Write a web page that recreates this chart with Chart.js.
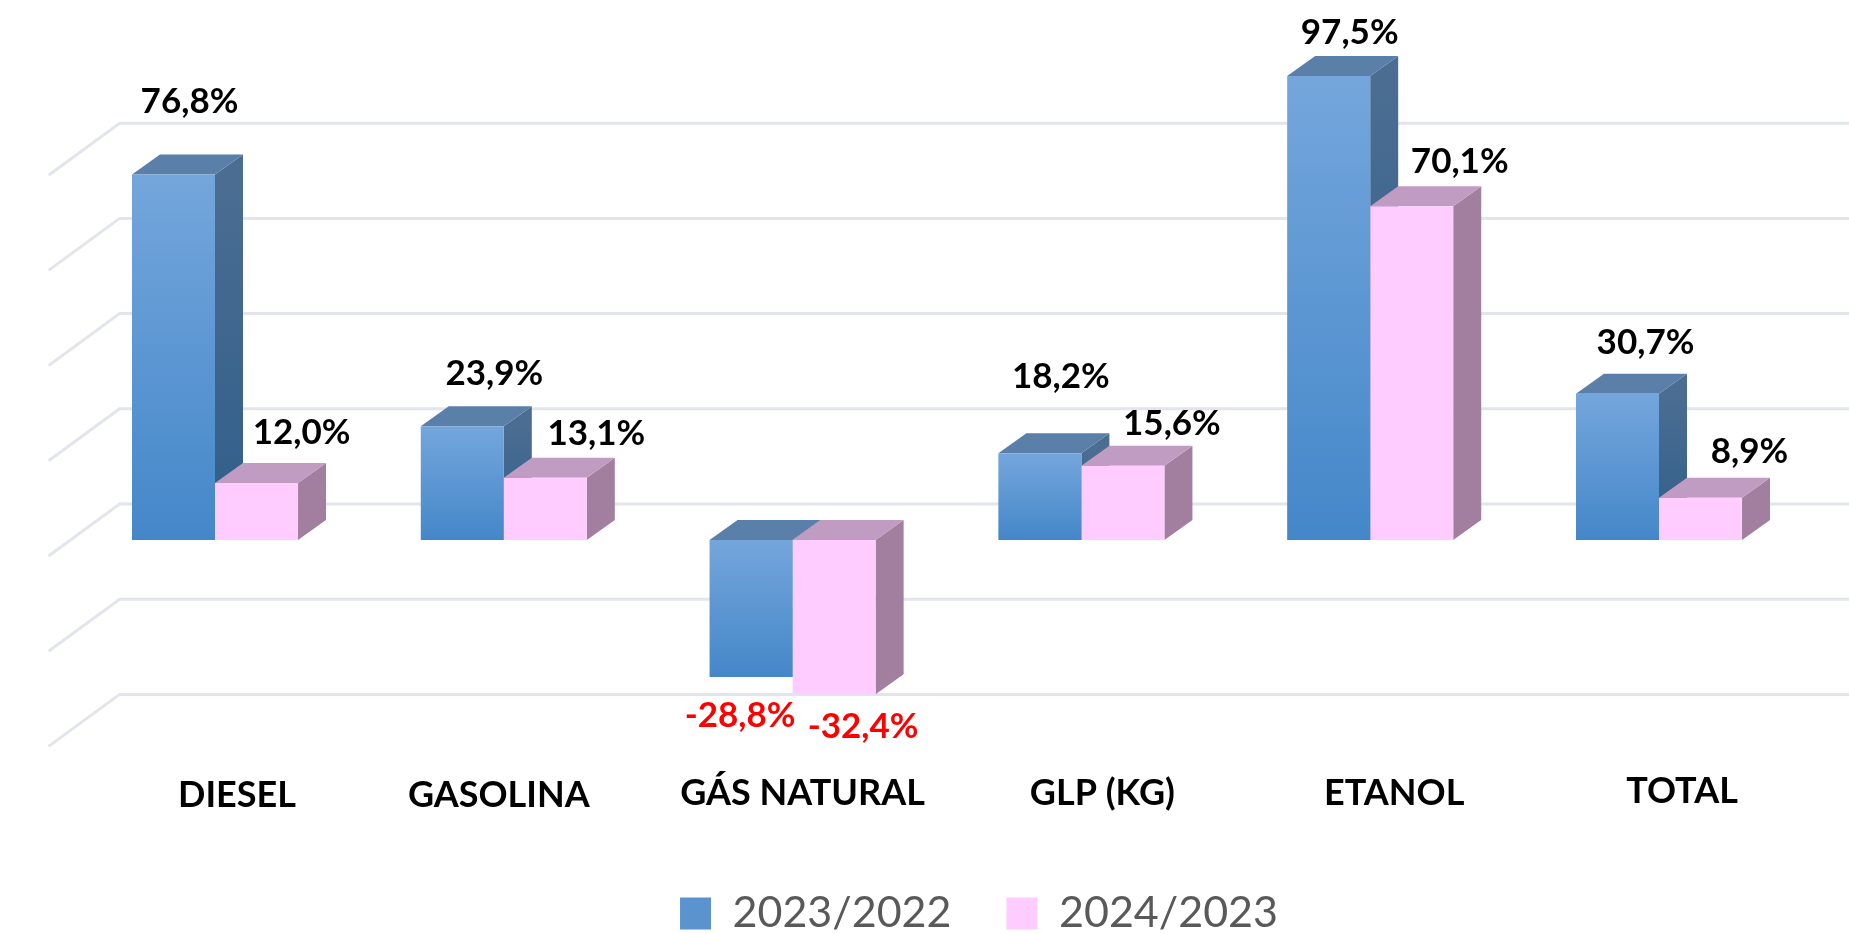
<!DOCTYPE html>
<html lang="pt">
<head>
<meta charset="utf-8">
<title>Variação por combustível</title>
<script src="https://cdn.jsdelivr.net/npm/chart.js@4/dist/chart.umd.js"></script>
<style>
    html, body { margin: 0; padding: 0; background: #ffffff; }
    canvas { display: block; }
</style>
</head>
<body>
<canvas id="fuelChart" width="1849" height="934"></canvas>
<script>
let categories = ['DIESEL', 'GASOLINA', 'GÁS NATURAL', 'GLP (KG)', 'ETANOL', 'TOTAL'];
let seriesNames = ['2023/2022', '2024/2023'];
let values2023 = [76.8, 23.9, -28.8, 18.2, 97.5, 30.7];
let values2024 = [12.0, 13.1, -32.4, 15.6, 70.1, 8.9];
let axisTicks = [-40, -20, 0, 20, 40, 60, 80]; // the wall stops at 80, the ETANOL bar pokes out of it
let axisMin = -40;
let axisMax = 100;

// hand placed label offsets, measured from the tip of each bar
let labelShiftX = [[16, 32, -11, 21, 21, 28], [45, 51, 29, 49, 48, 49]];
let labelShiftY = [[-73, -53, 39, -77, -43, -51], [-50, -44, 32, -42, -45, -46]];
let categoryShiftX = [22, -5, 10, 21, 24, 23];
let categoryShiftY = [2, 2, 0, 0, 0, -2];

// colours of the fake 3D faces
let blue = { top: '#5a7fa8', front: ['#74a6dc', '#4487c9'], side: ['#4b6d92', '#2f5e8a'], legend: '#5b93cf' };
let pink = { top: '#c09cc2', front: ['#ffccff', '#ffccff'], side: ['#a37f9f', '#a37f9f'], legend: '#ffccff' };
let palette = [blue, pink];

let barDepthX = 28;
let barDepthY = 20;
let wallDepthX = 71;
let wallDepthY = 52;
let wallLift = 36; // back wall sits above the plane of the bar fronts

function frontGradient(context, colors) {
    let chart = context.chart;
    if (!chart.chartArea) {
        return colors.legend;
    }
    let y = chart.scales.y;
    let zero = y.getPixelForValue(0);
    let tip = y.getPixelForValue(context.raw);
    let gradient = chart.ctx.createLinearGradient(0, Math.min(zero, tip), 0, Math.max(zero, tip));
    gradient.addColorStop(0, colors.front[0]);
    gradient.addColorStop(1, colors.front[1]);
    return gradient;
}

let walls = {
    id: 'walls',
    beforeInit(chart) {
        // wide legend padding is only wanted between the two items, not in the layout
        let fit = chart.legend.fit;
        chart.legend.fit = function () {
            fit.call(chart.legend);
            this.height = 64.4;
        };
    },
    afterLayout(chart) {
        // per label nudges, the library still draws the text
        chart.scales.x.getLabelItems().forEach((item, i) => {
            item.options.translation[0] += categoryShiftX[i];
            item.options.translation[1] += categoryShiftY[i];
        });
        chart.legend.left += 42;
        chart.legend.right += 42;
        chart.legend.top = 837;
        chart.legend.bottom = 934;
    },
    beforeDatasetsDraw(chart) {
        let ctx = chart.ctx;
        let yScale = chart.scales.y;
        let area = chart.chartArea;
        let backX = area.left + 49;

        // gridlines on the back wall and the floor
        ctx.save();
        ctx.strokeStyle = '#e3e5ec';
        ctx.lineWidth = 3;
        axisTicks.forEach(value => {
            let y = yScale.getPixelForValue(value) - wallLift;
            ctx.beginPath();
            ctx.moveTo(backX - wallDepthX, y + wallDepthY);
            ctx.lineTo(backX, y);
            ctx.lineTo(chart.width, y);
            ctx.stroke();
        });
        ctx.restore();

        // side and top faces, the library paints the fronts over them
        chart.data.datasets.forEach((dataset, d) => {
            let colors = palette[d];
            chart.getDatasetMeta(d).data.forEach((bar, i) => {
                let props = bar.getProps(['x', 'y', 'base', 'width'], true);
                let left = props.x - props.width / 2;
                let right = props.x + props.width / 2;
                let upper = Math.min(props.y, props.base);
                let lower = Math.max(props.y, props.base);

                let side = ctx.createLinearGradient(0, upper, 0, lower);
                side.addColorStop(0, colors.side[0]);
                side.addColorStop(1, colors.side[1]);
                ctx.fillStyle = side;
                ctx.beginPath();
                ctx.moveTo(right, upper);
                ctx.lineTo(right + barDepthX, upper - barDepthY);
                ctx.lineTo(right + barDepthX, lower - barDepthY);
                ctx.lineTo(right, lower);
                ctx.closePath();
                ctx.fill();

                ctx.fillStyle = colors.top;
                ctx.beginPath();
                ctx.moveTo(left, upper);
                ctx.lineTo(left + barDepthX, upper - barDepthY);
                ctx.lineTo(right + barDepthX, upper - barDepthY);
                ctx.lineTo(right, upper);
                ctx.closePath();
                ctx.fill();
            });
        });
    },
    afterDatasetsDraw(chart) {
        let ctx = chart.ctx;
        ctx.save();
        ctx.font = 'bold 35px Lato';
        ctx.textAlign = 'center';
        ctx.textBaseline = 'middle';
        chart.data.datasets.forEach((dataset, d) => {
            chart.getDatasetMeta(d).data.forEach((bar, i) => {
                let value = dataset.data[i];
                ctx.fillStyle = value < 0 ? '#ff0000' : '#000000';
                let text = value.toFixed(1).replace('.', ',') + '%';
                ctx.fillText(text, bar.x + labelShiftX[d][i], bar.y + labelShiftY[d][i]);
            });
        });
        ctx.restore();
    }
};

let chart = new Chart(document.getElementById('fuelChart').getContext('2d'), {
    type: 'bar',
    data: {
        labels: categories,
        datasets: [
            { label: seriesNames[0], data: values2023, backgroundColor: c => frontGradient(c, blue) },
            { label: seriesNames[1], data: values2024, backgroundColor: c => frontGradient(c, pink) }
        ]
    },
    plugins: [walls],
    options: {
        responsive: false,
        animation: false,
        categoryPercentage: 0.575,
        barPercentage: 1,
        layout: { padding: { left: 70.6, right: 45.6, top: 64 } },
        plugins: {
            tooltip: { enabled: false },
            legend: {
                position: 'bottom',
                labels: {
                    boxWidth: 31,
                    boxHeight: 32,
                    padding: 55,
                    color: '#595959',
                    font: { family: 'Lato', size: 43 },
                    generateLabels(chart) {
                        let items = Chart.defaults.plugins.legend.labels.generateLabels(chart);
                        items.forEach((item, i) => {
                            item.fillStyle = palette[i].legend;
                            item.lineWidth = 0;
                        });
                        return items;
                    }
                }
            }
        },
        scales: {
            x: {
                grid: { display: false, drawTicks: false },
                border: { display: false },
                afterFit(scale) { scale.height = 139.2; },
                ticks: {
                    padding: 41,
                    color: '#000000',
                    maxRotation: 0,
                    autoSkip: false,
                    font: { family: 'Lato', size: 36, weight: 'bold' }
                }
            },
            y: {
                display: false,
                min: axisMin,
                max: axisMax,
                ticks: { stepSize: 20 }
            }
        }
    }
});
</script>
</body>
</html>
